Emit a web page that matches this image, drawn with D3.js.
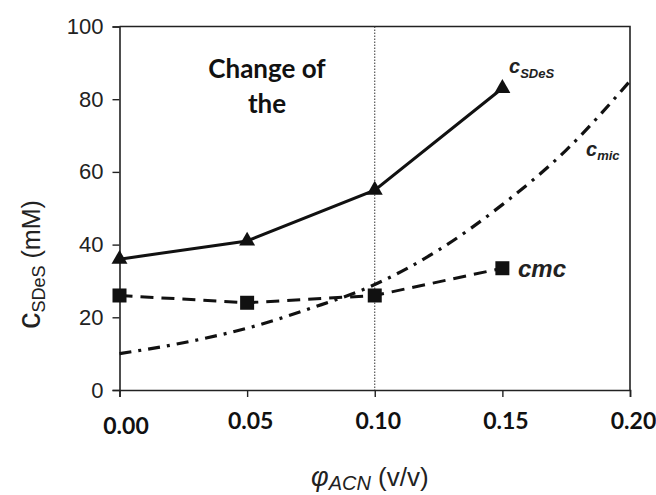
<!DOCTYPE html>
<html>
<head>
<meta charset="utf-8">
<title>cSDeS vs phi ACN</title>
<script src="https://d3js.org/d3.v7.min.js"></script>
<style>
  body { margin: 0; background: #fff; }
  svg { display: block; }
</style>
</head>
<body>
<svg id="chart" width="656" height="495"></svg>
<script>
// ---------------- data ----------------
var phi = [0, 0.05, 0.10, 0.15];
var cSDeS = [36, 41, 55, 83];
var cmc = [26, 24, 26, 33.5];
var micPhi = [0, 0.025, 0.05, 0.075, 0.10, 0.125, 0.15, 0.175, 0.20];
var cMic = [10, 13, 17, 22.5, 29, 38.5, 51, 66, 85];
var xTicks = [0, 0.05, 0.10, 0.15, 0.20];
var yTicks = [0, 20, 40, 60, 80, 100];

// ---------------- layout ----------------
var svg = d3.select("#chart");
var ink = "#222";
var x = d3.scaleLinear().domain([0, 0.2]).range([119.5, 630]);
var y = d3.scaleLinear().domain([0, 100]).range([390, 26.5]);

// frame (top/right)
svg.append("path")
   .attr("d", "M" + x(0) + "," + y(100) + "H" + x(0.2) + "V" + y(0))
   .attr("fill", "none").attr("stroke", ink).attr("stroke-width", 1.6);

// y axis
var gy = svg.append("g").attr("transform", "translate(" + x(0) + ",0)")
   .call(d3.axisLeft(y).tickValues(yTicks).tickSize(7).tickPadding(9));
gy.select(".domain").attr("stroke", ink).attr("stroke-width", 1.6);
gy.selectAll(".tick line").attr("stroke", ink).attr("stroke-width", 1.4);
gy.selectAll(".tick text").attr("font-family", "Liberation Sans, Arial, sans-serif")
   .attr("font-size", 22).attr("fill", ink);

// x axis
var gx = svg.append("g").attr("transform", "translate(0," + y(0) + ")")
   .call(d3.axisBottom(x).tickValues(xTicks).tickFormat(d3.format(".2f")).tickSize(7).tickPadding(14));
gx.select(".domain").attr("stroke", ink).attr("stroke-width", 1.6);
gx.selectAll(".tick line").attr("stroke", ink).attr("stroke-width", 1.4);
gx.selectAll(".tick text").attr("font-family", "Lato, sans-serif").attr("font-weight", 700)
   .attr("font-size", 23).attr("fill", "#111")
   .attr("dx", function(d) { return d === 0 ? 6 : 3; })
   .attr("dy", function(d) { return d === 0 ? "1.0em" : "0.8em"; });

// vertical dotted line at 0.10
svg.append("line")
   .attr("x1", x(0.10)).attr("x2", x(0.10)).attr("y1", y(100)).attr("y2", y(0))
   .attr("stroke", "#333").attr("stroke-width", 1).attr("stroke-dasharray", "1.5,1.5");

// ---------------- series ----------------
var micData = micPhi.map(function(p, i) { return [p, cMic[i]]; });
var sdesData = phi.map(function(p, i) { return [p, cSDeS[i]]; });
var cmcData = phi.map(function(p, i) { return [p, cmc[i]]; });

var line = d3.line().x(function(d) { return x(d[0]); }).y(function(d) { return y(d[1]); });

svg.append("path").datum(micData)
   .attr("d", line.curve(d3.curveMonotoneX))
   .attr("fill", "none").attr("stroke", "#111").attr("stroke-width", 3.2)
   .attr("stroke-dasharray", "12,7,3,7");

line.curve(d3.curveLinear);
svg.append("path").datum(cmcData)
   .attr("d", line)
   .attr("fill", "none").attr("stroke", "#111").attr("stroke-width", 3)
   .attr("stroke-dasharray", "13,8");

svg.append("path").datum(sdesData)
   .attr("d", line)
   .attr("fill", "none").attr("stroke", "#111").attr("stroke-width", 3);

// markers
svg.selectAll(".tri").data(sdesData).enter().append("path")
   .attr("class", "tri")
   .attr("transform", function(d) { return "translate(" + x(d[0]) + "," + y(d[1]) + ")"; })
   .attr("d", d3.symbol().type(d3.symbolTriangle).size(110))
   .attr("fill", "#111");

svg.selectAll(".sq").data(cmcData).enter().append("rect")
   .attr("class", "sq")
   .attr("x", function(d) { return x(d[0]) - 7; })
   .attr("y", function(d) { return y(d[1]) - 7; })
   .attr("width", 14).attr("height", 14)
   .attr("fill", "#111");

// ---------------- labels ----------------
var lab = svg.append("text").attr("x", 509).attr("y", 73)
   .attr("font-family", "Liberation Sans, Arial, sans-serif").attr("font-weight", 700)
   .attr("font-style", "italic").attr("fill", "#222");
lab.append("tspan").attr("font-size", 20).text("c");
lab.append("tspan").attr("font-size", 13).attr("dy", 5).text("SDeS");

var lab2 = svg.append("text").attr("x", 586).attr("y", 156)
   .attr("font-family", "Liberation Sans, Arial, sans-serif").attr("font-weight", 700)
   .attr("font-style", "italic").attr("fill", "#222");
lab2.append("tspan").attr("font-size", 20).text("c");
lab2.append("tspan").attr("font-size", 13).attr("dy", 4).text("mic");

svg.append("text").attr("x", 518).attr("y", 277)
   .attr("font-family", "Liberation Sans, Arial, sans-serif").attr("font-weight", 700)
   .attr("font-style", "italic").attr("font-size", 24).attr("fill", "#222").text("cmc");

svg.append("text").attr("x", 267).attr("y", 78).attr("text-anchor", "middle")
   .attr("font-family", "Lato, sans-serif").attr("font-weight", 700)
   .attr("font-size", 26).attr("fill", "#111").text("Change of");
svg.append("text").attr("x", 267).attr("y", 113).attr("text-anchor", "middle")
   .attr("font-family", "Lato, sans-serif").attr("font-weight", 700)
   .attr("font-size", 26).attr("fill", "#111").text("the");

// axis titles
var xt = svg.append("text").attr("x", 311).attr("y", 486)
   .attr("font-family", "Liberation Sans, Arial, sans-serif").attr("fill", "#222");
xt.append("tspan").attr("font-size", 27).attr("font-style", "italic").text("φ");
xt.append("tspan").attr("font-size", 20).attr("font-style", "italic").attr("dy", 4).text("ACN");
xt.append("tspan").attr("font-size", 26).attr("dy", -4).text(" (v/v)");

var yt = svg.append("text").attr("transform", "translate(40,329) rotate(-90)")
   .attr("font-family", "Liberation Sans, Arial, sans-serif").attr("fill", "#222");
yt.append("tspan").attr("font-size", 33).text("c");
yt.append("tspan").attr("font-size", 18).attr("dy", 5).text("SDeS");
yt.append("tspan").attr("font-size", 25).attr("dy", -5).text(" (mM)");
</script>
</body>
</html>
